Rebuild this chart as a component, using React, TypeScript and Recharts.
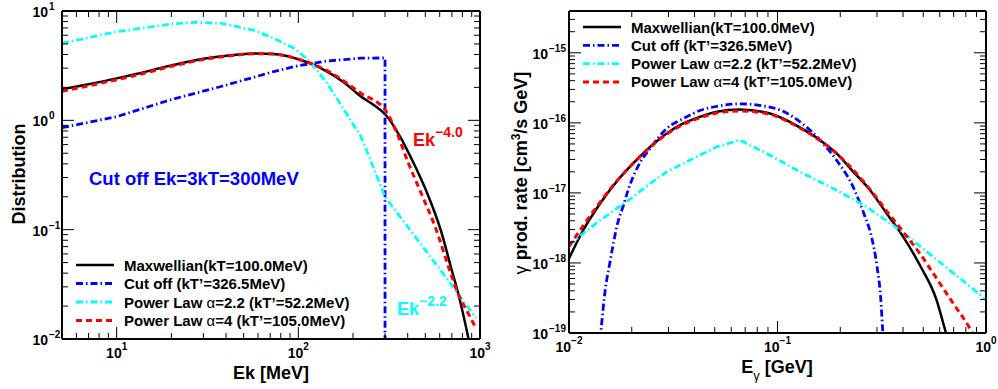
import React from "react";
import { LineChart, Line, XAxis, YAxis } from "recharts";

const FONT = "'Liberation Sans', Arial, Helvetica, sans-serif";

// ---- left panel: distribution vs Ek [MeV]
const ekMaxwell = [5, 7, 10, 13, 20, 30, 38, 47, 58, 73, 85, 100, 120, 144, 180, 221, 260, 303, 363, 423, 512, 607, 698, 766, 865, 920];
const distMaxwell = [1.92, 2.14, 2.42, 2.67, 3.18, 3.66, 3.86, 4.0, 4.08, 4.05, 3.9, 3.62, 3.25, 2.79, 2.2, 1.65, 1.38, 1.12, 0.71, 0.434, 0.216, 0.1, 0.043, 0.0245, 0.01, 0.006];

const ekCut = [5, 10, 20, 38, 73, 100, 144, 221, 300, 300];
const distCut = [0.857, 1.08, 1.55, 2.05, 2.79, 3.16, 3.49, 3.7, 3.72, 0.001];

const ekPow22 = [5, 10, 20, 27, 38, 58, 73, 95, 117, 144, 179, 221, 250, 300, 500, 700, 950];
const distPow22 = [5.07, 6.47, 7.6, 7.88, 7.72, 6.6, 5.63, 4.56, 3.4, 2.18, 1.24, 0.71, 0.43, 0.2, 0.065, 0.031, 0.0155];

const ekPow4 = [5, 7, 10, 13, 20, 30, 38, 47, 58, 73, 100, 144, 221, 303, 345, 400, 474, 574, 679, 755, 859, 940];
const distPow4 = [1.84, 2.07, 2.35, 2.6, 3.12, 3.6, 3.82, 3.97, 4.07, 4.04, 3.62, 2.85, 1.77, 1.22, 0.8, 0.42, 0.216, 0.1, 0.043, 0.0263, 0.0173, 0.013];

// ---- right panel: gamma production rate vs E_gamma [GeV]
const egMaxwell = [0.01, 0.0117, 0.0141, 0.0169, 0.0203, 0.0245, 0.0294, 0.0353, 0.0425, 0.0511, 0.066, 0.092, 0.133, 0.16, 0.192, 0.231, 0.278, 0.334, 0.401, 0.482, 0.58, 0.643, 0.7];
const rateMaxwell = [1.16e-18, 2.93e-18, 7.06e-18, 1.44e-17, 2.63e-17, 4.54e-17, 7.06e-17, 9.8e-17, 1.22e-16, 1.44e-16, 1.55e-16, 1.36e-16, 8.05e-17, 5.66e-17, 3.66e-17, 2.0e-17, 1.09e-17, 5.08e-18, 2.36e-18, 9.27e-19, 2.93e-19, 1.0e-19, 4.5e-20];

const egCut = [0.0139, 0.0142, 0.0149, 0.0157, 0.0171, 0.0182, 0.0192, 0.0219, 0.0245, 0.0294, 0.0353, 0.0425, 0.0511, 0.066, 0.085, 0.107, 0.133, 0.16, 0.192, 0.231, 0.26, 0.28, 0.3, 0.313, 0.32, 0.325];
const rateCut = [5e-20, 1e-19, 4e-19, 1.0e-18, 3.66e-18, 6.5e-18, 1.09e-17, 2.7e-17, 4.3e-17, 8.3e-17, 1.15e-16, 1.5e-16, 1.72e-16, 1.87e-16, 1.75e-16, 1.45e-16, 9.5e-17, 5.66e-17, 2.93e-17, 1.2e-17, 5e-18, 2.6e-18, 9e-19, 3e-19, 1e-19, 5e-20];

const egPow22 = [0.01, 0.0117, 0.0141, 0.0169, 0.0203, 0.0245, 0.0294, 0.0353, 0.0425, 0.0511, 0.066, 0.0888, 0.128, 0.185, 0.268, 0.387, 0.559, 1.0];
const ratePow22 = [1.8e-18, 2.63e-18, 4.07e-18, 5.98e-18, 8.77e-18, 1.36e-17, 2.0e-17, 2.63e-17, 3.46e-17, 4.54e-17, 5.66e-17, 3.66e-17, 2.0e-17, 1.16e-17, 6.3e-18, 2.93e-18, 1.22e-18, 3.0e-19];

const egPow4 = [0.01, 0.0117, 0.0141, 0.0169, 0.0203, 0.0245, 0.0294, 0.0353, 0.0425, 0.0511, 0.066, 0.092, 0.133, 0.192, 0.278, 0.334, 0.401, 0.482, 0.58, 0.697, 0.838, 0.9];
const ratePow4 = [1.72e-18, 3.4e-18, 7.4e-18, 1.46e-17, 2.63e-17, 4.5e-17, 6.9e-17, 9.5e-17, 1.18e-16, 1.38e-16, 1.48e-16, 1.32e-16, 7.9e-17, 3.66e-17, 1.12e-17, 5.5e-18, 2.77e-18, 1.36e-18, 5.98e-19, 2.63e-19, 1.16e-19, 8e-20];

// tick decades and sub-multiples
const minorSteps = [1, 2, 3, 4, 5, 6, 7, 8, 9];
const leftXDecades = [1, 10, 100];
const leftYDecades = [0.01, 0.1, 1];
const rightXDecades = [0.01, 0.1];
const rightYDecades = [1e-19, 1e-18, 1e-17, 1e-16, 1e-15];

const legendNames = [
  "Maxwellian(kT=100.0MeV)",
  "Cut off (kT\u2019=326.5MeV)",
  "Power Law \u03b1=2.2 (kT\u2019=52.2MeV)",
  "Power Law \u03b1=4 (kT\u2019=105.0MeV)",
];

const zip = (xs: number[], ys: number[]) => xs.map((x, i) => ({ x, y: ys[i] }));

const logTicks = (decades: number[], lo: number, hi: number, last: number[]) =>
  decades
    .flatMap((d) => minorSteps.map((m) => m * d))
    .concat(last)
    .filter((v) => v > lo * 1.0001 && v <= hi * 1.0001);

const isDecade = (v: number) => {
  const l = Math.log10(v);
  return Math.abs(l - Math.round(l)) < 1e-6;
};
const expText = (v: number) => {
  const e = Math.round(Math.log10(v));
  return e < 0 ? "\u2212" + Math.abs(e) : String(e);
};

type Side = "bottom" | "top" | "left" | "right";

const makeTick = (side: Side, gap: number) => (props: any) => {
  const { x, y, payload } = props;
  const v = payload.value as number;
  const major = isDecade(v);
  const len = major ? 12 : 6;
  let line;
  if (side === "bottom") line = <line x1={x} x2={x} y1={y} y2={y - len} stroke="#000" strokeWidth={1} />;
  else if (side === "top") line = <line x1={x} x2={x} y1={y} y2={y + len} stroke="#000" strokeWidth={1} />;
  else if (side === "left") line = <line x1={x} x2={x + len} y1={y} y2={y} stroke="#000" strokeWidth={1} />;
  else line = <line x1={x} x2={x - len} y1={y} y2={y} stroke="#000" strokeWidth={1} />;
  let label = null;
  if (major && side === "bottom") {
    label = (
      <text x={x} y={y + 19} textAnchor="middle" fontFamily={FONT} fontWeight="bold" fontSize={14} fill="#000">
        10<tspan dy={-8} fontSize={10}>{expText(v)}</tspan>
      </text>
    );
  } else if (major && side === "left") {
    label = (
      <g fontFamily={FONT} fontWeight="bold" fill="#000">
        <text x={x - gap} y={y + 6} textAnchor="end" fontSize={14}>10</text>
        <text x={x - gap + 1} y={y - 1} textAnchor="start" fontSize={10}>{expText(v)}</text>
      </g>
    );
  }
  return (
    <g>
      {line}
      {label}
    </g>
  );
};

const frame = { stroke: "#000", strokeWidth: 2 };

const styles = {
  maxwell: { stroke: "#000000", strokeWidth: 2.5 },
  cut: { stroke: "#0000ff", strokeWidth: 2.8, strokeDasharray: "7 3 1.5 3" },
  pow22: { stroke: "#00ffff", strokeWidth: 2.8, strokeDasharray: "7 3 1.5 3" },
  pow4: { stroke: "#ff0000", strokeWidth: 3, strokeDasharray: "6 4" },
};
const order: (keyof typeof styles)[] = ["maxwell", "cut", "pow22", "pow4"];

type Curve = "linear" | "monotone";

function Panel(props: {
  width: number;
  margin: { top: number; right: number; bottom: number; left: number };
  xDomain: [number, number];
  yDomain: [number, number];
  xTicks: number[];
  yTicks: number[];
  series: Record<string, { x: number; y: number }[]>;
  curves: Record<string, Curve>;
  yGap: number;
}) {
  const { width, margin, xDomain, yDomain, xTicks, yTicks, series, curves, yGap } = props;
  return (
    <LineChart width={width} height={389} margin={margin}>
      <XAxis
        xAxisId="b"
        dataKey="x"
        type="number"
        scale="log"
        domain={xDomain}
        allowDataOverflow
        ticks={xTicks}
        interval={0}
        height={1}
        tickSize={0}
        tickMargin={0}
        axisLine={frame}
        tickLine={false}
        tick={makeTick("bottom", 0)}
      />
      <XAxis
        xAxisId="t"
        orientation="top"
        dataKey="x"
        type="number"
        scale="log"
        domain={xDomain}
        allowDataOverflow
        ticks={xTicks}
        interval={0}
        height={1}
        tickSize={0}
        tickMargin={0}
        axisLine={frame}
        tickLine={false}
        tick={makeTick("top", 0)}
      />
      <YAxis
        yAxisId="l"
        dataKey="y"
        type="number"
        scale="log"
        domain={yDomain}
        allowDataOverflow
        ticks={yTicks}
        interval={0}
        width={1}
        tickSize={0}
        tickMargin={0}
        axisLine={frame}
        tickLine={false}
        tick={makeTick("left", yGap)}
      />
      <YAxis
        yAxisId="r"
        orientation="right"
        dataKey="y"
        type="number"
        scale="log"
        domain={yDomain}
        allowDataOverflow
        ticks={yTicks}
        interval={0}
        width={1}
        tickSize={0}
        tickMargin={0}
        axisLine={frame}
        tickLine={false}
        tick={makeTick("right", 0)}
      />
      {order.map((k) => (
        <Line
          key={k}
          xAxisId="b"
          yAxisId="l"
          data={series[k]}
          dataKey="y"
          type={curves[k]}
          dot={false}
          activeDot={false}
          isAnimationActive={false}
          strokeLinejoin="round"
          {...styles[k]}
        />
      ))}
    </LineChart>
  );
}

function LegendBlock({ x, y, step }: { x: number; y: number; step: number }) {
  return (
    <g fontFamily={FONT} fontWeight="bold" fontSize={15} fill="#000">
      {order.map((k, i) => {
        const s = styles[k];
        const name = legendNames[i];
        const parts = name.split("\u03b1");
        return (
          <g key={k}>
            <line
              x1={x}
              x2={x + 38}
              y1={y + i * step}
              y2={y + i * step}
              stroke={s.stroke}
              strokeWidth={s.strokeWidth}
              strokeDasharray={(s as any).strokeDasharray}
            />
            <text x={x + 48} y={y + i * step + 5.5}>
              {parts[0]}
              {parts.length > 1 && <tspan fontWeight="normal">{"\u03b1"}</tspan>}
              {parts.length > 1 && parts[1]}
            </text>
          </g>
        );
      })}
    </g>
  );
}

export default function App() {
  const leftSeries = {
    maxwell: zip(ekMaxwell, distMaxwell),
    cut: zip(ekCut, distCut),
    pow22: zip(ekPow22, distPow22),
    pow4: zip(ekPow4, distPow4),
  };
  const rightSeries = {
    maxwell: zip(egMaxwell, rateMaxwell),
    cut: zip(egCut, rateCut),
    pow22: zip(egPow22, ratePow22),
    pow4: zip(egPow4, ratePow4),
  };
  return (
    <div style={{ position: "absolute", left: 0, top: 0, width: 998, height: 389, background: "#fff" }}>
      <div style={{ position: "absolute", left: 0, top: 0 }}>
        <Panel
          width={500}
          margin={{ top: 10, right: 19, bottom: 49, left: 61 }}
          xDomain={[5, 1000]}
          yDomain={[0.01, 10]}
          xTicks={logTicks(leftXDecades, 5, 1000, [1000])}
          yTicks={logTicks(leftYDecades, 0.0099, 10, [10])}
          series={leftSeries}
          curves={{ maxwell: "monotone", cut: "linear", pow22: "linear", pow4: "monotone" }}
          yGap={14}
        />
      </div>
      <div style={{ position: "absolute", left: 500, top: 0 }}>
        <Panel
          width={498}
          margin={{ top: 10, right: 11, bottom: 55, left: 68 }}
          xDomain={[0.01, 1]}
          yDomain={[1e-19, 3.95e-15]}
          xTicks={logTicks(rightXDecades, 0.0099, 1, [1])}
          yTicks={logTicks(rightYDecades, 0.99e-19, 3.95e-15, [])}
          series={rightSeries}
          curves={{ maxwell: "monotone", cut: "monotone", pow22: "linear", pow4: "monotone" }}
          yGap={21}
        />
      </div>
      <svg
        width={998}
        height={389}
        style={{ position: "absolute", left: 0, top: 0, pointerEvents: "none" }}
        fontFamily={FONT}
        fontWeight="bold"
      >
        {/* axis titles */}
        <text x={25} y={174} transform="rotate(-90 25 174)" textAnchor="middle" fontSize={18} fill="#000">
          Distribution
        </text>
        <text x={271} y={379} textAnchor="middle" fontSize={18} fill="#000">
          Ek [MeV]
        </text>
        <text x={527} y={173} transform="rotate(-90 527 173)" textAnchor="middle" fontSize={18} fill="#000">
          <tspan fontWeight="normal">{"\u03b3"}</tspan> prod. rate [cm
          <tspan dy={-7} fontSize={12}>3</tspan>
          <tspan dy={7}>/s GeV]</tspan>
        </text>
        <text x={777} y={373} textAnchor="middle" fontSize={18} fill="#000">
          E<tspan dy={7} fontSize={13} fontWeight="normal">{"\u03b3"}</tspan>
          <tspan dy={-7}> [GeV]</tspan>
        </text>

        {/* annotations */}
        <text x={89} y={185} fontSize={18.5} fill="#0000ff">
          Cut off Ek=3kT=300MeV
        </text>
        <text x={413} y={146} fontSize={18} fill="#ff0000">
          Ek<tspan dy={-9} fontSize={14}>{"\u22124.0"}</tspan>
        </text>
        <text x={397} y={315} fontSize={18} fill="#00ffff">
          Ek<tspan dy={-9} fontSize={14}>{"\u22122.2"}</tspan>
        </text>

        <LegendBlock x={76} y={265} step={18.5} />
        <LegendBlock x={583} y={27} step={18.3} />
      </svg>
    </div>
  );
}
